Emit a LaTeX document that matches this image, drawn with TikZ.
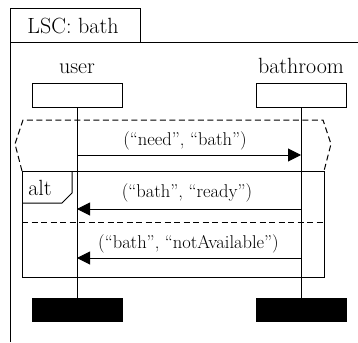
\documentclass[tikz,border=0pt]{standalone}
\usetikzlibrary{arrows.meta}
\begin{document}
\begin{tikzpicture}[x=1pt,y=-1pt,line width=1pt,
  lbl/.style={font=\fontsize{22}{26}\selectfont, inner sep=0pt, anchor=base},
  msgtxt/.style={font=\fontsize{18.5}{22}\selectfont, inner sep=0pt, anchor=base},
  headbox/.style={draw, minimum width=90pt, minimum height=23pt, inner sep=0pt},
  endbox/.style={draw, fill=black, minimum width=90pt, minimum height=23pt, inner sep=0pt},
  msg/.style={-{Triangle[length=13pt,width=13pt]}},
  dsh/.style={dash pattern=on 6pt off 3.5pt}]
\useasboundingbox (0,0) rectangle (358,342);
% frame
\draw (10,342) -- (10,9) -- (140,9) -- (140,43);
\draw (10,43) -- (358,43);
\node[lbl] (title) at (73,34) {LSC: bath};
% instances
\node[lbl] (userlbl) at (77,74) {user};
\node[lbl] (bathlbl) at (301,74) {bathroom};
\node[headbox] (userhead) at (77,95.5) {};
\node[headbox] (bathhead) at (301,95.5) {};
\node[endbox] (userend) at (77,309.5) {};
\node[endbox] (bathend) at (301,309.5) {};
% dashed hexagon (prechart)
\draw[dsh] (22,171) -- (15,144) -- (23,120) -- (323,120) -- (331,144) -- (324,171);
% alt fragment
\draw (22,171) rectangle (324,277);
\draw (22,203) -- (62,203) -- (72,193) -- (72,171);
\node[lbl] (alt) at (40,195) {alt};
\draw[dsh] (22,222) -- (324,222);
% lifelines
\draw (userhead.south) -- (userend.north);
\draw (bathhead.south) -- (bathend.north);
% messages
\coordinate (u1) at (77,155); \coordinate (b1) at (301,155);
\coordinate (u2) at (77,209); \coordinate (b2) at (301,209);
\coordinate (u3) at (77,258); \coordinate (b3) at (301,258);
\draw[msg] (u1) -- (b1);
\draw[msg] (b2) -- (u2);
\draw[msg] (b3) -- (u3);
\node[msgtxt] (m1) at (185,145) {(“need”, “bath”)};
\node[msgtxt] (m2) at (187,197) {(“bath”, “ready”)};
\node[msgtxt] (m3) at (188.5,248) {(“bath”, “notAvailable”)};
\end{tikzpicture}
\end{document}
